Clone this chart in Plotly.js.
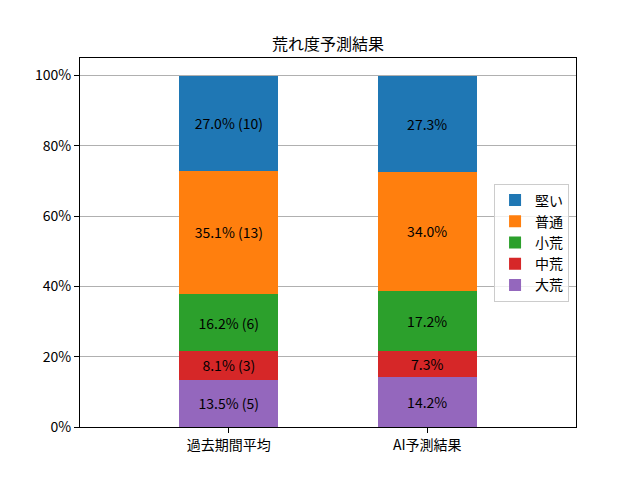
<!DOCTYPE html>
<html>
<head>
<meta charset="utf-8">
<script src="https://cdn.plot.ly/plotly-3.0.1.min.js"></script>
<style>html,body{margin:0;padding:0;background:#fff;}#chart{width:640px;height:480px;}</style>
</head>
<body>
<div id="chart"></div>
<script>
const categories = ['過去期間平均', 'AI予測結果'];
const seriesNames = ['大荒', '中荒', '小荒', '普通', '堅い'];
const seriesColors = ['#9467bd', '#d62728', '#2ca02c', '#ff7f0e', '#1f77b4'];
const valDaiare = [13.51, 14.2];
const valChuare = [8.11, 7.3];
const valShoare = [16.22, 17.2];
const valFutsu = [35.14, 34.0];
const valKatai = [27.03, 27.3];
const lblDaiare = ['13.5% (5)', '14.2%'];
const lblChuare = ['8.1% (3)', '7.3%'];
const lblShoare = ['16.2% (6)', '17.2%'];
const lblFutsu = ['35.1% (13)', '34.0%'];
const lblKatai = ['27.0% (10)', '27.3%'];
const yTickVals = [0, 20, 40, 60, 80, 100];
const yTickText = ['0%', '20%', '40%', '60%', '80%', '100%'];

const allVals = [valDaiare, valChuare, valShoare, valFutsu, valKatai];
const allLbls = [lblDaiare, lblChuare, lblShoare, lblFutsu, lblKatai];
const FONT = '"Noto Sans CJK JP", "DejaVu Sans", sans-serif';

const traces = seriesNames.map((name, i) => ({
  type: 'bar',
  name: name,
  x: categories,
  y: allVals[i],
  text: allLbls[i],
  textposition: 'inside',
  insidetextanchor: 'middle',
  textangle: 0,
  constraintext: 'none',
  textfont: {color: '#000000', size: 14, family: FONT},
  marker: {color: seriesColors[i], line: {width: 0}},
  width: 0.5,
  hoverinfo: 'none'
}));

const layout = {
  width: 640, height: 480,
  paper_bgcolor: '#ffffff', plot_bgcolor: '#ffffff',
  font: {family: FONT, size: 14, color: '#000000'},
  barmode: 'stack',
  margin: {l: 80, r: 64, t: 58, b: 53, pad: 0},
  title: {text: '荒れ度予測結果', font: {size: 16, family: FONT, color: '#000'}, x: 0.5, xanchor: 'center', y: 1 - 44/480, yanchor: 'middle', xref: 'paper'},
  xaxis: {
    type: 'category', range: [-0.75, 1.75],
    showline: true, mirror: true, linecolor: '#000', linewidth: 1,
    ticks: 'outside', ticklen: 5, tickcolor: '#000', tickwidth: 1,
    showgrid: false, zeroline: false,
    tickfont: {size: 14, family: FONT}
  },
  yaxis: {
    range: [0, 105], tickvals: yTickVals, ticktext: yTickText,
    showline: true, mirror: true, linecolor: '#000', linewidth: 1,
    ticks: 'outside', ticklen: 5, tickcolor: '#000', tickwidth: 1,
    showgrid: true, gridcolor: '#b0b0b0', gridwidth: 1, zeroline: false,
    tickfont: {size: 14, family: FONT}
  },
  legend: {
    x: 0.986, xanchor: 'right', y: 0.5, yanchor: 'middle',
    traceorder: 'reversed',
    bgcolor: 'rgba(255,255,255,0.8)', bordercolor: '#cccccc', borderwidth: 1,
    font: {size: 14, family: FONT}
  },
  showlegend: true
};

Plotly.newPlot('chart', traces, layout, {staticPlot: true, displayModeBar: false});
</script>
</body>
</html>
